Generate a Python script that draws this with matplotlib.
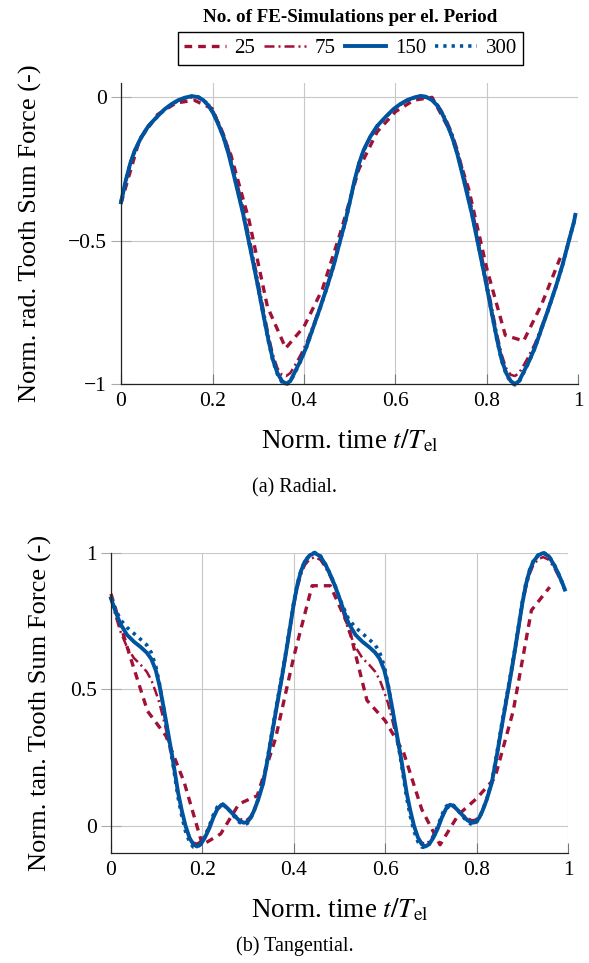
import matplotlib
matplotlib.use("Agg")
import matplotlib.pyplot as plt

plt.rcParams["font.family"] = ["Liberation Serif", "DejaVu Serif"]
plt.rcParams["mathtext.fontset"] = "stix"

RED = "#A11035"
BLUE = "#00549F"

# samples per electrical period
labels = ["25", "75", "150", "300"]

# ---- 25 samples (both plots), t = k/25
t25 = [k / 25 for k in range(25)]
rad_25 = [-0.37, -0.15, -0.06, -0.02, -0.01, -0.04, -0.20, -0.43, -0.73, -0.875,
          -0.80, -0.67, -0.47, -0.25, -0.12, -0.05, -0.01, 0.00, -0.12, -0.32,
          -0.60, -0.83, -0.85, -0.72, -0.56]
tan_25 = [0.85, 0.63, 0.42, 0.33, 0.16, -0.07, -0.03, 0.08, 0.11, 0.32,
          0.62, 0.88, 0.88, 0.73, 0.46, 0.385, 0.27, 0.06, -0.07, 0.04,
          0.10, 0.175, 0.42, 0.79, 0.875]

# ---- radial force, finer sampled curves
rad_t = [0.000, 0.010, 0.020, 0.030, 0.045, 0.060, 0.078, 0.095, 0.110, 0.125,
         0.140, 0.155, 0.168, 0.180, 0.192, 0.202, 0.213, 0.224, 0.235, 0.246,
         0.257, 0.267, 0.282, 0.297, 0.311, 0.322, 0.332, 0.342, 0.352, 0.361,
         0.370, 0.380, 0.392, 0.405, 0.420, 0.435, 0.450, 0.465, 0.479, 0.490,
         0.500, 0.510, 0.520, 0.530, 0.545, 0.560, 0.578, 0.595, 0.610, 0.625,
         0.640, 0.655, 0.668, 0.680, 0.692, 0.702, 0.713, 0.724, 0.735, 0.746,
         0.757, 0.767, 0.782, 0.797, 0.811, 0.822, 0.832, 0.842, 0.852, 0.861,
         0.870, 0.880, 0.892, 0.905, 0.920, 0.935, 0.950, 0.965, 0.979, 0.990,
         0.993]
rad_75 = [-0.366, -0.290, -0.228, -0.182, -0.134, -0.098, -0.068, -0.042, -0.025, -0.012,
          -0.004, 0.000, -0.002, -0.010, -0.026, -0.050, -0.085, -0.126, -0.180, -0.247,
          -0.318, -0.385, -0.500, -0.618, -0.735, -0.826, -0.897, -0.945, -0.968, -0.972,
          -0.962, -0.935, -0.900, -0.858, -0.795, -0.730, -0.660, -0.582, -0.498, -0.432,
          -0.366, -0.290, -0.228, -0.182, -0.134, -0.098, -0.068, -0.042, -0.025, -0.012,
          -0.004, 0.000, -0.002, -0.010, -0.026, -0.050, -0.085, -0.126, -0.180, -0.247,
          -0.318, -0.385, -0.500, -0.618, -0.735, -0.826, -0.897, -0.945, -0.968, -0.972,
          -0.962, -0.935, -0.900, -0.858, -0.795, -0.730, -0.660, -0.582, -0.498, -0.432,
          -0.412]
rad_150 = [-0.366, -0.293, -0.232, -0.186, -0.137, -0.100, -0.069, -0.042, -0.024, -0.010,
           -0.001, 0.004, 0.001, -0.010, -0.030, -0.057, -0.095, -0.139, -0.197, -0.267,
           -0.340, -0.407, -0.523, -0.640, -0.756, -0.845, -0.915, -0.962, -0.990, -0.999,
           -0.990, -0.958, -0.920, -0.872, -0.803, -0.735, -0.663, -0.585, -0.500, -0.435,
           -0.366, -0.293, -0.232, -0.186, -0.137, -0.100, -0.069, -0.042, -0.024, -0.010,
           -0.001, 0.005, 0.001, -0.010, -0.030, -0.057, -0.095, -0.139, -0.197, -0.267,
           -0.340, -0.407, -0.523, -0.640, -0.756, -0.845, -0.915, -0.962, -0.990, -1.000,
           -0.990, -0.958, -0.920, -0.872, -0.803, -0.735, -0.663, -0.585, -0.500, -0.435,
           -0.410]
rad_300 = [-0.366, -0.294, -0.233, -0.187, -0.138, -0.101, -0.070, -0.043, -0.025, -0.011,
           -0.002, 0.004, 0.002, -0.009, -0.029, -0.056, -0.094, -0.138, -0.195, -0.265,
           -0.338, -0.405, -0.522, -0.641, -0.758, -0.848, -0.919, -0.966, -0.994, -1.003,
           -0.993, -0.961, -0.922, -0.873, -0.804, -0.736, -0.664, -0.586, -0.501, -0.436,
           -0.367, -0.294, -0.233, -0.187, -0.138, -0.101, -0.070, -0.043, -0.025, -0.011,
           -0.002, 0.004, 0.002, -0.009, -0.029, -0.056, -0.094, -0.138, -0.195, -0.265,
           -0.338, -0.405, -0.522, -0.641, -0.758, -0.848, -0.919, -0.966, -0.994, -1.003,
           -0.993, -0.961, -0.922, -0.873, -0.804, -0.736, -0.664, -0.586, -0.501, -0.436,
           -0.412]

# ---- tangential force, finer sampled curves
tan_t = [0.000, 0.010, 0.020, 0.035, 0.050, 0.065, 0.078, 0.088, 0.098, 0.106,
         0.115, 0.125, 0.135, 0.147, 0.155, 0.163, 0.172, 0.180, 0.188, 0.196,
         0.205, 0.215, 0.224, 0.233, 0.242, 0.250, 0.260, 0.270, 0.280, 0.290,
         0.298, 0.306, 0.313, 0.322, 0.333, 0.344, 0.355, 0.364, 0.373, 0.383,
         0.392, 0.400, 0.408, 0.416, 0.424, 0.435, 0.446, 0.458, 0.470, 0.480,
         0.490, 0.500, 0.510, 0.520, 0.535, 0.550, 0.565, 0.578, 0.588, 0.598,
         0.606, 0.615, 0.625, 0.635, 0.647, 0.655, 0.663, 0.672, 0.680, 0.688,
         0.696, 0.705, 0.715, 0.724, 0.733, 0.742, 0.750, 0.760, 0.770, 0.780,
         0.790, 0.798, 0.806, 0.813, 0.822, 0.833, 0.844, 0.855, 0.864, 0.873,
         0.883, 0.892, 0.900, 0.908, 0.916, 0.924, 0.935, 0.946, 0.958, 0.970,
         0.980, 0.990, 0.993]
tan_75 = [0.834, 0.770, 0.715, 0.655, 0.615, 0.590, 0.565, 0.535, 0.490, 0.450,
          0.390, 0.320, 0.235, 0.115, 0.050, -0.002, -0.042, -0.062, -0.066, -0.058,
          -0.036, -0.002, 0.034, 0.060, 0.072, 0.068, 0.054, 0.040, 0.027, 0.020,
          0.022, 0.036, 0.058, 0.096, 0.155, 0.250, 0.355, 0.440, 0.525, 0.625,
          0.720, 0.805, 0.872, 0.922, 0.955, 0.978, 0.985, 0.975, 0.945, 0.912,
          0.875, 0.834, 0.770, 0.715, 0.655, 0.615, 0.590, 0.565, 0.535, 0.490,
          0.450, 0.390, 0.320, 0.235, 0.115, 0.050, -0.002, -0.042, -0.062, -0.066,
          -0.058, -0.036, -0.002, 0.034, 0.060, 0.072, 0.068, 0.054, 0.040, 0.027,
          0.020, 0.022, 0.036, 0.058, 0.096, 0.155, 0.250, 0.355, 0.440, 0.525,
          0.625, 0.720, 0.805, 0.872, 0.922, 0.955, 0.978, 0.985, 0.975, 0.945,
          0.912, 0.875, 0.862]
tan_150 = [0.834, 0.785, 0.742, 0.700, 0.675, 0.655, 0.635, 0.612, 0.570, 0.515,
           0.435, 0.340, 0.245, 0.120, 0.055, 0.000, -0.045, -0.068, -0.076, -0.068,
           -0.045, -0.010, 0.030, 0.062, 0.077, 0.072, 0.055, 0.037, 0.020, 0.011,
           0.013, 0.030, 0.055, 0.095, 0.156, 0.255, 0.364, 0.450, 0.535, 0.635,
           0.730, 0.815, 0.885, 0.935, 0.968, 0.992, 1.000, 0.988, 0.955, 0.920,
           0.880, 0.834, 0.785, 0.742, 0.700, 0.675, 0.655, 0.635, 0.612, 0.570,
           0.515, 0.435, 0.340, 0.245, 0.120, 0.055, 0.000, -0.045, -0.068, -0.076,
           -0.068, -0.045, -0.010, 0.030, 0.062, 0.077, 0.072, 0.055, 0.037, 0.020,
           0.011, 0.013, 0.030, 0.055, 0.095, 0.156, 0.255, 0.364, 0.450, 0.535,
           0.635, 0.730, 0.815, 0.885, 0.935, 0.968, 0.992, 1.000, 0.988, 0.955,
           0.920, 0.880, 0.866]
tan_300 = [0.834, 0.795, 0.757, 0.727, 0.705, 0.683, 0.663, 0.635, 0.585, 0.520,
           0.432, 0.332, 0.232, 0.102, 0.035, -0.020, -0.060, -0.078, -0.080, -0.068,
           -0.040, -0.002, 0.040, 0.070, 0.082, 0.074, 0.054, 0.033, 0.014, 0.004,
           0.008, 0.028, 0.055, 0.097, 0.160, 0.262, 0.372, 0.458, 0.542, 0.640,
           0.735, 0.820, 0.888, 0.937, 0.970, 0.993, 1.002, 0.990, 0.957, 0.921,
           0.881, 0.834, 0.795, 0.757, 0.727, 0.705, 0.683, 0.663, 0.635, 0.585,
           0.520, 0.432, 0.332, 0.232, 0.102, 0.035, -0.020, -0.060, -0.078, -0.080,
           -0.068, -0.040, -0.002, 0.040, 0.070, 0.082, 0.074, 0.054, 0.033, 0.014,
           0.004, 0.008, 0.028, 0.055, 0.097, 0.160, 0.262, 0.372, 0.458, 0.542,
           0.640, 0.735, 0.820, 0.888, 0.937, 0.970, 0.993, 1.002, 0.990, 0.957,
           0.921, 0.881, 0.867]

xticks = [0, 0.2, 0.4, 0.6, 0.8, 1]
xtick_labels = ["0", "0.2", "0.4", "0.6", "0.8", "1"]

styles = [
    dict(color=RED, lw=2.4, ls=(0, (2.3, 1.8))),
    dict(color=RED, lw=1.8, ls=(0, (4.0, 1.6, 0.8, 1.6))),
    dict(color=BLUE, lw=2.8, ls="-"),
    dict(color=BLUE, lw=2.6, ls=(0, (0.9, 1.4))),
]

fig = plt.figure(figsize=(5.89, 9.63), dpi=100)
ax1 = fig.add_axes([121 / 589, 1 - 384 / 963, 457.5 / 589, 301 / 963])
ax2 = fig.add_axes([111 / 589, 1 - 853 / 963, 457 / 589, 300 / 963])


def style_axis(ax, yticks, ylabels, ylim, ylabel, ylab_x):
    ax.set_xlim(0, 1)
    ax.set_ylim(*ylim)
    ax.set_xticks(xticks)
    ax.set_xticklabels(xtick_labels)
    ax.set_yticks(yticks)
    ax.set_yticklabels(ylabels)
    ax.grid(True, color="#c8c8c8", lw=0.8)
    ax.set_axisbelow(True)
    for s in ["top", "right"]:
        ax.spines[s].set_visible(False)
    for s in ["left", "bottom"]:
        ax.spines[s].set_color("#222222")
        ax.spines[s].set_linewidth(0.9)
    ax.tick_params(axis="x", direction="in", length=7, color="#777777",
                   labelsize=15.5, pad=6)
    ax.tick_params(axis="y", direction="inout", length=14, color="#aaaaaa",
                   labelsize=15.5, pad=3)
    ax.set_xlabel(r"Norm. time $t/T_{\mathrm{el}}$", fontsize=19.5)
    ax.set_ylabel(ylabel, fontsize=19)
    ax.xaxis.label.set_va("center")
    ax.yaxis.label.set_va("center")
    ax.xaxis.set_label_coords(0.5, -0.19)
    ax.yaxis.set_label_coords(ylab_x, 0.5)


rad_series = [(t25, rad_25), (rad_t, rad_75), (rad_t, rad_150), (rad_t, rad_300)]
tan_series = [(t25, tan_25), (tan_t, tan_75), (tan_t, tan_150), (tan_t, tan_300)]

handles = []
for (x, y), st, lab in zip(rad_series, styles, labels):
    h, = ax1.plot(x, y, label=lab, clip_on=False, **st)
    handles.append(h)
for (x, y), st in zip(tan_series, styles):
    ax2.plot(x, y, clip_on=False, **st)

style_axis(ax1, [-1, -0.5, 0], ["\u22121", "\u22120.5", "0"], (-1, 0.05),
           "Norm. rad. Tooth Sum Force (-)", -0.198)
style_axis(ax2, [0, 0.5, 1], ["0", "0.5", "1"], (-0.1, 1.0),
           "Norm. tan. Tooth Sum Force (-)", -0.154)

fig.legend(handles, labels, ncol=4, loc="center",
           bbox_to_anchor=(0.595, 1 - 48.5 / 963), frameon=True, fancybox=False,
           edgecolor="black", framealpha=1, fontsize=15, handlelength=2.0,
           handletextpad=0.4, columnspacing=0.45, borderpad=0.3)
fig.text(0.595, 1 - 18 / 963, "No. of FE-Simulations per el. Period",
         ha="center", va="center", fontsize=13.7, fontweight="bold")

fig.text(0.5, 1 - 488 / 963, "(a) Radial.", ha="center", va="center", fontsize=14.5)
fig.text(0.5, 1 - 946 / 963, "(b) Tangential.", ha="center", va="center", fontsize=14.5)

fig.savefig("out.png", dpi=100)
